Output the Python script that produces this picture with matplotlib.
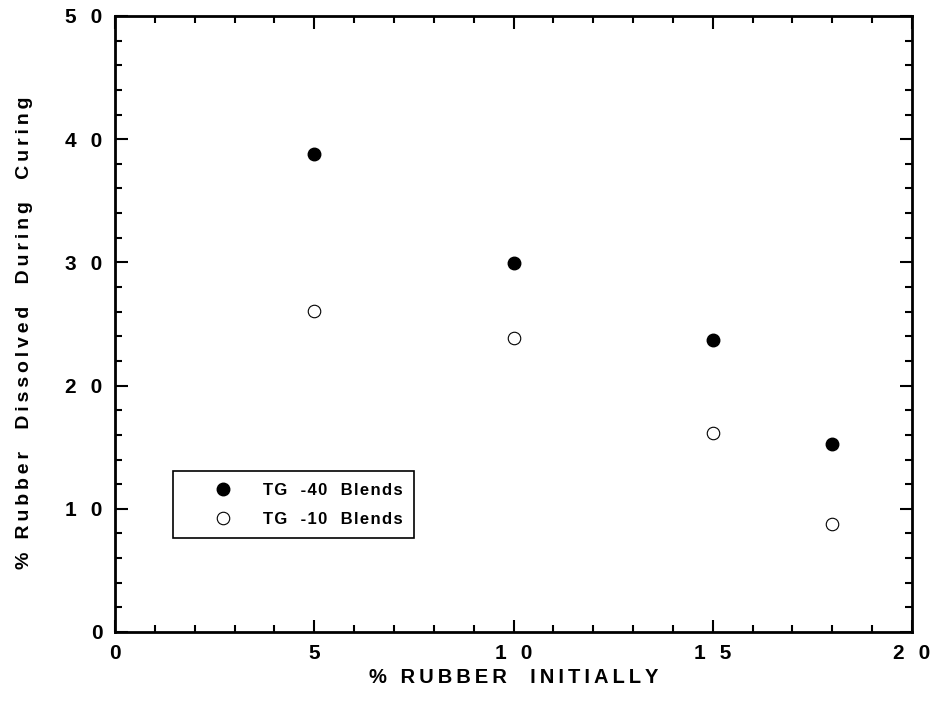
import matplotlib
matplotlib.use("Agg")
import matplotlib.pyplot as plt
from matplotlib.ticker import MultipleLocator

plt.rcParams['font.family'] = ['Liberation Sans', 'DejaVu Sans']
plt.rcParams['font.weight'] = 'bold'

# data
rubber_initial = [5, 10, 15, 18]
tg40 = [38.8, 29.95, 23.7, 15.25]
tg10 = [26.05, 23.85, 16.15, 8.75]

x_ticks = [0, 5, 10, 15, 20]
y_ticks = [0, 10, 20, 30, 40, 50]

THIN = '\u2009'
HAIR = '\u200a'


def track(s, sp=THIN):
    # old mac-style letterspacing
    return sp.join(s)


def tick_text(v):
    return (THIN + ' ' + THIN).join(str(v))


fig = plt.figure(figsize=(9.38, 7.04), dpi=100)
ax = fig.add_axes([0.1226, 0.1023, 0.8497, 0.875])

ax.plot(rubber_initial, tg40, 'o', ms=9, mfc='black', mec='black',
        mew=1, label=track('TG  -40  Blends', HAIR))
ax.plot(rubber_initial, tg10, 'o', ms=9, mfc='white', mec='black',
        mew=0.8, label=track('TG  -10  Blends', HAIR))

ax.set_xlim(0, 20)
ax.set_ylim(0, 50)
ax.set_xticks(x_ticks)
ax.set_yticks(y_ticks)
ax.set_xticklabels([tick_text(v) for v in x_ticks], fontsize=15, fontweight='bold')
ax.set_yticklabels([tick_text(v) for v in y_ticks], fontsize=15, fontweight='bold')
ax.xaxis.set_minor_locator(MultipleLocator(1))
ax.yaxis.set_minor_locator(MultipleLocator(2))
ax.tick_params(which='both', direction='in', top=True, right=True, width=1.5)
ax.tick_params(which='major', length=9, pad=9)
ax.tick_params(which='minor', length=5)
for s in ax.spines.values():
    s.set_linewidth(2)

ax.set_xlabel(track('% RUBBER  INITIALLY'), fontsize=14.5, fontweight='bold')
ax.set_ylabel(track('% Rubber  Dissolved  During  Curing'), fontsize=14,
              fontweight='bold')
ax.xaxis.set_label_coords(0.5, -0.058)
ax.yaxis.set_label_coords(-0.103, 0.485)

leg = ax.legend(loc='upper left', bbox_to_anchor=(0.0728, 0.2614),
                fancybox=False, edgecolor='black', framealpha=1,
                prop={'size': 12, 'weight': 'bold'}, borderpad=0.7,
                handletextpad=0.1, labelspacing=0.85, handlelength=4.6,
                borderaxespad=0)
leg.get_frame().set_linewidth(1.2)

fig.savefig('out.png', dpi=100)
